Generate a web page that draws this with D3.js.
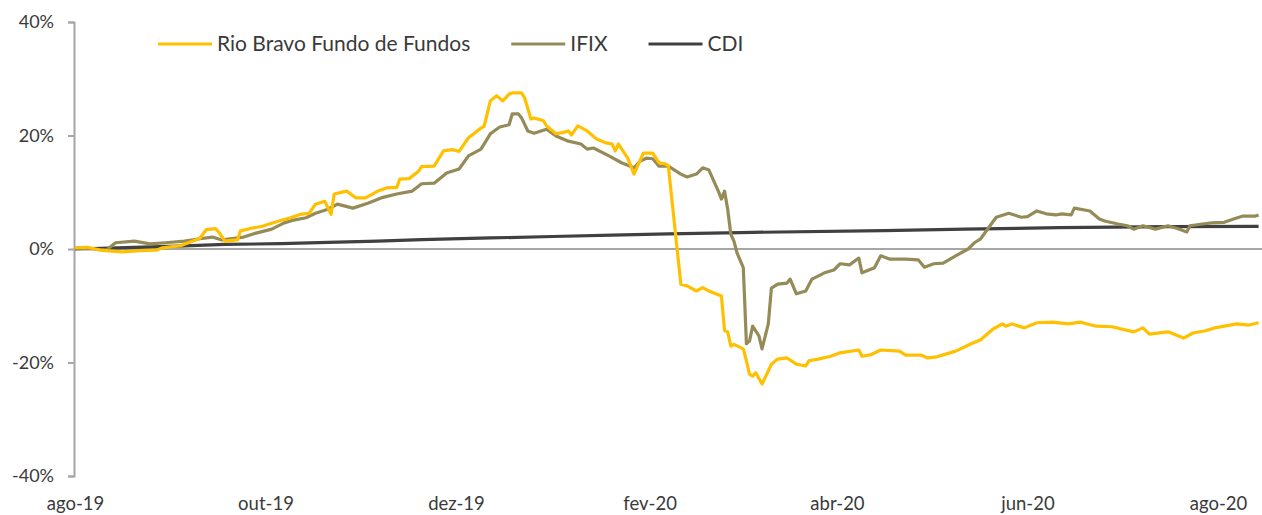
<!DOCTYPE html>
<html>
<head>
<meta charset="utf-8">
<script src="https://cdn.jsdelivr.net/npm/d3@7"></script>
<style>
  body { margin: 0; background: #fff; }
  text { font-family: "Gill Sans", Lato, "DejaVu Sans", sans-serif; fill: #3a3a3a; }
</style>
</head>
<body>
<svg id="chart" width="1262" height="515"></svg>
<script>
// series data (% accumulated return)
var rioDates = ["2019-08-01","2019-08-05","2019-08-09","2019-08-16","2019-08-22","2019-08-27","2019-08-29","2019-09-04","2019-09-10","2019-09-12","2019-09-15","2019-09-16","2019-09-18","2019-09-22","2019-09-23","2019-09-26","2019-09-30","2019-10-05","2019-10-09","2019-10-12","2019-10-15","2019-10-17","2019-10-20","2019-10-22","2019-10-23","2019-10-27","2019-10-30","2019-11-02","2019-11-06","2019-11-09","2019-11-12","2019-11-13","2019-11-16","2019-11-19","2019-11-20","2019-11-24","2019-11-27","2019-11-30","2019-12-02","2019-12-05","2019-12-09","2019-12-10","2019-12-12","2019-12-14","2019-12-16","2019-12-18","2019-12-19","2019-12-22","2019-12-23","2019-12-25","2019-12-26","2019-12-29","2019-12-30","2020-01-02","2020-01-04","2020-01-06","2020-01-07","2020-01-09","2020-01-12","2020-01-15","2020-01-18","2020-01-20","2020-01-21","2020-01-22","2020-01-25","2020-01-27","2020-01-30","2020-02-02","2020-02-04","2020-02-06","2020-02-07","2020-02-11","2020-02-13","2020-02-16","2020-02-18","2020-02-20","2020-02-24","2020-02-25","2020-02-26","2020-02-27","2020-02-28","2020-03-02","2020-03-03","2020-03-04","2020-03-05","2020-03-06","2020-03-08","2020-03-11","2020-03-13","2020-03-16","2020-03-19","2020-03-22","2020-03-23","2020-03-26","2020-03-30","2020-04-02","2020-04-08","2020-04-09","2020-04-12","2020-04-15","2020-04-21","2020-04-23","2020-04-28","2020-04-30","2020-05-03","2020-05-09","2020-05-14","2020-05-17","2020-05-21","2020-05-24","2020-05-25","2020-05-27","2020-05-31","2020-06-04","2020-06-09","2020-06-14","2020-06-18","2020-06-23","2020-06-28","2020-07-05","2020-07-08","2020-07-10","2020-07-16","2020-07-21","2020-07-24","2020-07-28","2020-07-31","2020-08-07","2020-08-11","2020-08-14"];
var rioValues = [0.2,0.3,-0.2,-0.5,-0.3,-0.2,0.2,0.6,1.9,3.4,3.6,3.0,1.4,1.6,3.2,3.6,4.0,4.9,5.5,6.1,6.3,7.9,8.4,6.1,9.7,10.2,9.0,9.0,10.2,10.8,10.8,12.3,12.4,13.7,14.5,14.6,17.3,17.5,17.2,19.6,21.3,21.6,26.1,27.0,26.1,27.3,27.5,27.5,26.6,22.9,23.1,22.6,21.7,20.3,20.5,20.8,20.1,21.7,20.8,19.4,18.7,18.5,17.3,18.5,16.0,13.2,16.9,16.9,15.2,15.0,14.6,-6.2,-6.5,-7.4,-6.8,-7.4,-8.3,-14.4,-14.6,-17.1,-16.8,-17.6,-19.7,-22.1,-22.4,-21.8,-23.8,-20.3,-19.4,-19.2,-20.3,-20.6,-19.7,-19.4,-18.9,-18.3,-17.8,-18.9,-18.6,-17.8,-18.0,-18.7,-18.7,-19.2,-19.0,-18.0,-16.7,-16.0,-14.1,-13.2,-13.6,-13.2,-13.9,-13.0,-12.9,-13.2,-12.9,-13.6,-13.7,-14.6,-13.9,-15.0,-14.6,-15.7,-14.8,-14.4,-13.9,-13.2,-13.4,-13.0];

var ifixDates = ["2019-08-01","2019-08-07","2019-08-11","2019-08-14","2019-08-20","2019-08-25","2019-08-30","2019-09-05","2019-09-10","2019-09-14","2019-09-17","2019-09-21","2019-09-24","2019-09-28","2019-10-03","2019-10-07","2019-10-10","2019-10-14","2019-10-17","2019-10-21","2019-10-24","2019-10-29","2019-11-03","2019-11-07","2019-11-12","2019-11-17","2019-11-20","2019-11-24","2019-11-28","2019-12-02","2019-12-05","2019-12-09","2019-12-12","2019-12-15","2019-12-18","2019-12-19","2019-12-21","2019-12-22","2019-12-24","2019-12-26","2019-12-30","2020-01-02","2020-01-06","2020-01-10","2020-01-12","2020-01-14","2020-01-19","2020-01-23","2020-01-27","2020-01-29","2020-01-31","2020-02-02","2020-02-04","2020-02-07","2020-02-11","2020-02-13","2020-02-16","2020-02-18","2020-02-20","2020-02-23","2020-02-24","2020-02-25","2020-02-26","2020-02-27","2020-02-28","2020-02-29","2020-03-02","2020-03-03","2020-03-04","2020-03-05","2020-03-07","2020-03-08","2020-03-10","2020-03-11","2020-03-13","2020-03-16","2020-03-17","2020-03-19","2020-03-22","2020-03-24","2020-03-28","2020-03-31","2020-04-02","2020-04-05","2020-04-08","2020-04-09","2020-04-13","2020-04-15","2020-04-18","2020-04-23","2020-04-27","2020-04-29","2020-05-02","2020-05-05","2020-05-09","2020-05-13","2020-05-15","2020-05-17","2020-05-20","2020-05-22","2020-05-26","2020-05-30","2020-06-01","2020-06-04","2020-06-07","2020-06-10","2020-06-12","2020-06-15","2020-06-16","2020-06-21","2020-06-24","2020-06-26","2020-06-30","2020-07-03","2020-07-05","2020-07-08","2020-07-12","2020-07-16","2020-07-19","2020-07-22","2020-07-23","2020-07-27","2020-07-30","2020-08-03","2020-08-06","2020-08-09","2020-08-13","2020-08-14"];
var ifixValues = [0.2,0.0,-0.2,1.1,1.4,0.9,1.1,1.4,1.8,2.1,1.6,1.9,2.1,2.8,3.5,4.6,5.1,5.5,6.3,7.0,7.9,7.2,8.1,9.0,9.7,10.2,11.5,11.6,13.4,14.1,16.4,17.6,20.3,21.5,21.9,23.8,23.8,23.1,20.8,20.4,21.1,19.9,19.0,18.5,17.6,17.8,16.4,15.2,14.3,15.5,16.0,15.9,14.6,14.6,13.2,12.7,13.2,14.3,13.9,10.2,8.8,10.2,7.0,2.6,1.4,-0.7,-3.3,-16.7,-16.2,-13.6,-15.3,-17.6,-13.2,-6.9,-6.2,-6.0,-5.3,-7.9,-7.4,-5.3,-4.2,-3.7,-2.6,-2.8,-1.6,-4.2,-3.3,-1.2,-1.8,-1.8,-1.9,-3.2,-2.6,-2.5,-1.2,0.0,1.1,1.8,4.1,5.6,6.3,5.6,5.7,6.7,6.2,6.0,6.2,6.0,7.2,6.7,5.3,4.9,4.4,4.1,3.5,4.1,3.5,4.1,3.6,3.0,4.1,4.4,4.6,4.7,5.3,5.8,5.8,6.0];

var cdiDates = ["2019-08-01","2019-08-20","2019-09-03","2019-09-18","2019-10-06","2019-10-21","2019-11-06","2019-11-20","2019-12-12","2020-01-01","2020-01-20","2020-02-07","2020-03-01","2020-04-16","2020-05-12","2020-06-11","2020-07-16","2020-08-14"];
var cdiValues = [0.0,0.3,0.5,0.8,0.95,1.15,1.4,1.65,1.95,2.2,2.45,2.65,2.9,3.25,3.5,3.75,3.95,4.0];

var seriesNames = ["Rio Bravo Fundo de Fundos", "IFIX", "CDI"];
var seriesColors = ["#FFC000", "#958B58", "#404040"];

var yTicks = [-40, -20, 0, 20, 40];
var xTickDates = ["2019-08-01","2019-10-01","2019-12-01","2020-02-01","2020-04-01","2020-06-01","2020-08-01"];
var xTickLabels = ["ago-19","out-19","dez-19","fev-20","abr-20","jun-20","ago-20"];

var parse = d3.timeParse("%Y-%m-%d");
var svg = d3.select("#chart");

var x = d3.scaleTime()
    .domain([parse("2019-08-01"), parse("2020-08-15")])
    .range([75, 1261.7]);
var y = d3.scaleLinear()
    .domain([-40, 40])
    .range([476, 22]);

//y axis with ticks on the left
var yAxis = svg.append("g")
    .attr("transform", "translate(74,0)")
    .call(d3.axisLeft(y).tickValues(yTicks).tickSize(6).tickPadding(14)
        .tickFormat(d => d + "%"));
yAxis.select(".domain").attr("stroke", "#a6a6a6").attr("stroke-width", 2);
yAxis.selectAll(".tick line").attr("stroke", "#a6a6a6").attr("stroke-width", 2);
yAxis.selectAll(".tick text")
    .style("font-size", "18px")
    .attr("fill", "#3a3a3a");

//zero line
svg.append("line")
    .attr("x1", 74)
    .attr("x2", 1262)
    .attr("y1", y(0))
    .attr("y2", y(0))
    .attr("stroke", "#a6a6a6")
    .attr("stroke-width", 2);

//x labels at the bottom, no line
var xAxis = svg.append("g")
    .attr("transform", "translate(0,497)")
    .call(d3.axisBottom(x).tickValues(xTickDates.map(parse)).tickSize(0).tickPadding(0)
        .tickFormat((d, i) => xTickLabels[i]));
xAxis.select(".domain").remove();
xAxis.selectAll(".tick text")
    .style("font-size", "18.5px")
    .attr("fill", "#3a3a3a")
    .attr("dy", "0.71em");

var line = d3.line()
    .x(d => x(d.date))
    .y(d => y(d.value));

function toPoints(dates, values) {
    return dates.map((d, i) => ({date: parse(d), value: values[i]}));
}

var allSeries = [
    toPoints(rioDates, rioValues),
    toPoints(ifixDates, ifixValues),
    toPoints(cdiDates, cdiValues)
];

//draw cdi first so the others sit on top
[2, 1, 0].forEach(i => {
    svg.append("path")
        .datum(allSeries[i])
        .attr("fill", "none")
        .attr("stroke", seriesColors[i])
        .attr("stroke-width", 3.2)
        .attr("stroke-linejoin", "round")
        .attr("d", line);
});

//legend
var lx = 158;
seriesNames.forEach((name, i) => {
    svg.append("line")
        .attr("x1", lx)
        .attr("x2", lx + 54)
        .attr("y1", 44)
        .attr("y2", 44)
        .attr("stroke", seriesColors[i])
        .attr("stroke-width", 3.2);
    var t = svg.append("text")
        .attr("x", lx + 59)
        .attr("y", 51)
        .style("font-size", "21px")
        .text(name);
    lx = lx + 59 + t.node().getComputedTextLength() + 41;
});
</script>
</body>
</html>
